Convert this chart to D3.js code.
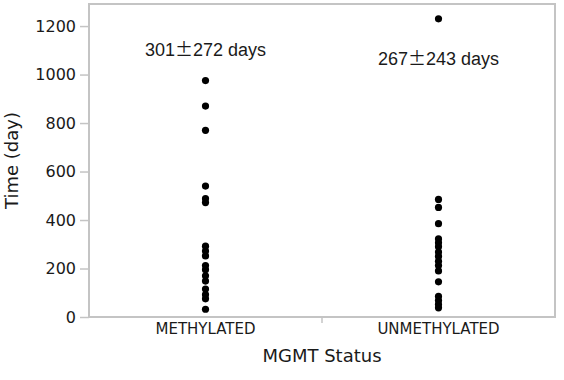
<!DOCTYPE html>
<html>
<head>
<meta charset="utf-8">
<script src="https://cdn.jsdelivr.net/npm/d3@7"></script>
<style>
  body { margin: 0; background: #fff; }
  text { fill: #1a1a1a; }
</style>
</head>
<body>
<div id="chart"></div>
<script>
// MGMT status vs survival time, dot plot
var categories = ["METHYLATED", "UNMETHYLATED"];
var methylated = [975, 870, 770, 540, 488, 472, 292, 272, 252, 212, 195, 170, 148, 115, 92, 75, 32];
var unmethylated = [1230, 485, 452, 385, 322, 306, 290, 268, 250, 230, 212, 190, 145, 85, 68, 52, 38];
var means = ["301", "267"];
var sds = ["272", "243"];
var yTicks = [0, 200, 400, 600, 800, 1000, 1200];

var width = 564, height = 380;
var margin = {top: 4, right: 9, bottom: 63, left: 89};

var svg = d3.select("#chart").append("svg")
    .attr("width", width)
    .attr("height", height);

var x = d3.scaleBand()
    .domain(categories)
    .range([margin.left, width - margin.right]);

var y = d3.scaleLinear()
    .domain([0, 1291])
    .range([height - margin.bottom, margin.top]);

var series = [
  {cat: categories[0], values: methylated, mean: means[0], sd: sds[0], labelY: 1075},
  {cat: categories[1], values: unmethylated, mean: means[1], sd: sds[1], labelY: 1038}
];

// y axis
var yAxis = svg.append("g")
    .attr("transform", "translate(" + margin.left + ",0)")
    .call(d3.axisLeft(y).tickValues(yTicks).tickFormat(d3.format("d")).tickSize(9).tickPadding(4));
yAxis.select(".domain").remove();
yAxis.selectAll("line").attr("stroke", "#c4c4c4").attr("stroke-width", 1.5);
yAxis.selectAll("text")
    .style("font-family", "DejaVu Sans")
    .style("font-size", "16px")
    .attr("fill", "#1a1a1a");

// x axis labels
var xAxis = svg.append("g")
    .attr("transform", "translate(0," + y(0) + ")")
    .call(d3.axisBottom(x).tickSize(0).tickPadding(6));
xAxis.select(".domain").remove();
xAxis.selectAll("text")
    .style("font-family", "DejaVu Sans")
    .style("font-size", "15px")
    .attr("fill", "#1a1a1a");

// boundary tick between the categories
svg.append("line")
    .attr("x1", x(categories[1])).attr("x2", x(categories[1]))
    .attr("y1", y(0)).attr("y2", y(0) + 6)
    .attr("stroke", "#c4c4c4").attr("stroke-width", 1.5);

// frame
svg.append("rect")
    .attr("x", margin.left)
    .attr("y", margin.top)
    .attr("width", width - margin.left - margin.right)
    .attr("height", y(0) - margin.top)
    .attr("fill", "none")
    .attr("stroke", "#c4c4c4")
    .attr("stroke-width", 2);

// dots + mean/sd labels
series.forEach(function(s) {
  svg.append("g").selectAll("circle")
      .data(s.values)
      .enter().append("circle")
      .attr("cx", x(s.cat) + x.bandwidth() / 2)
      .attr("cy", function(d) { return y(d); })
      .attr("r", 3.6)
      .attr("fill", "#000");

  var t = svg.append("text")
      .attr("x", x(s.cat) + x.bandwidth() / 2)
      .attr("y", y(s.labelY))
      .attr("text-anchor", "middle")
      .style("font-family", "'Liberation Sans', Arial, sans-serif")
      .style("font-size", "18px");
  t.append("tspan").text(s.mean);
  t.append("tspan").style("font-family", "'Noto Sans CJK JP'").text("\u00B1");
  t.append("tspan").text(s.sd + " days");
});

// axis titles
svg.append("text")
    .attr("x", (margin.left + width - margin.right) / 2)
    .attr("y", 362)
    .attr("text-anchor", "middle")
    .style("font-family", "DejaVu Sans")
    .style("font-size", "18px")
    .text("MGMT Status");

svg.append("text")
    .attr("transform", "translate(18," + (margin.top + y(0)) / 2 + ") rotate(-90)")
    .attr("text-anchor", "middle")
    .style("font-family", "DejaVu Sans")
    .style("font-size", "18px")
    .text("Time (day)");
</script>
</body>
</html>
